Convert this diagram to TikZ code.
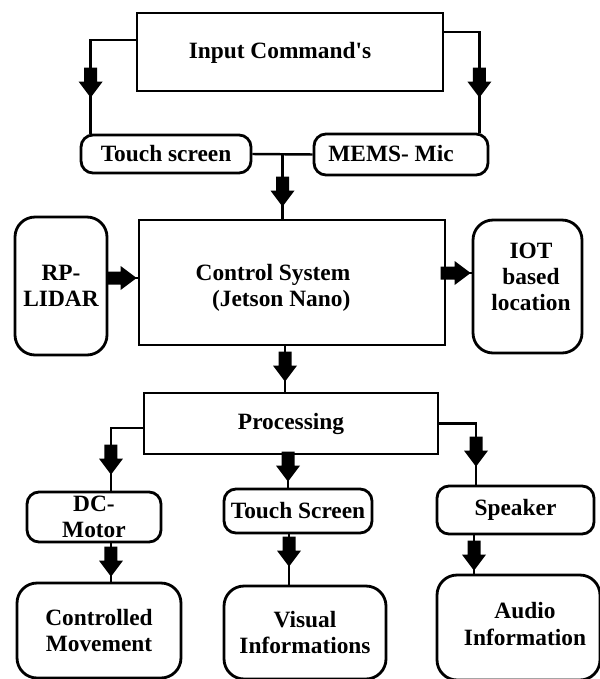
\documentclass[tikz,border=0pt]{standalone}
\usepackage{fontspec}
\setmainfont{Liberation Serif}
\usetikzlibrary{calc,decorations.markings}
\tikzset{
  box/.style={draw, line width=1.6pt, inner sep=0pt, align=center, font=\fontsize{13.3}{15}\selectfont\bfseries},
  rbox/.style={box, rounded corners=0.24cm},
  bigbox/.style={box, rounded corners=0.4cm},
  txt/.style={inner sep=0pt, align=center, font=\fontsize{13.3}{15}\selectfont\bfseries},
  conn/.style={line width=1.4pt},
  blk/.style={postaction={decorate}, decoration={markings, mark=at position #1 with {\fill (0,0) -- (-0.32cm,0.24cm) -- (-0.32cm,0.13cm) -- (-0.6cm,0.13cm) -- (-0.6cm,-0.13cm) -- (-0.32cm,-0.13cm) -- (-0.32cm,-0.24cm) -- cycle;}}}
}
\begin{document}
\begin{tikzpicture}[x=0.02cm, y=-0.02cm]
    \useasboundingbox[fill=white] (0,0) rectangle (599,679);
    % input side
    \node[box, minimum width=6.12cm, minimum height=1.56cm] (inp) at (290,52) {};
    \node[txt] (inptxt) at (280,53) {Input Command\textquotesingle s};
    \node[rbox, minimum width=3.40cm, minimum height=0.76cm] (ts) at (166,154) {Touch screen};
    \node[rbox, minimum width=3.48cm, minimum height=0.82cm] (mems) at (401,154.5) {};
    \node[txt] (memstxt) at (391,154) {MEMS- Mic};
    % control
    \node[box, minimum width=6.12cm, minimum height=2.50cm] (ctrl) at (292,282.5) {};
    \node[txt, align=right] (ctrltxt) at (273,288) {Control System\\(Jetson Nano)};
    \node[bigbox, minimum width=1.84cm, minimum height=2.76cm] (rp) at (61,286) {RP-\\LIDAR};
    \node[bigbox, minimum width=2.18cm, minimum height=2.66cm] (iot) at (527.5,286.5) {};
    \node[txt] (iottxt) at (531,277) {IOT\\based\\location};
    % output side
    \node[box, minimum width=5.88cm, minimum height=1.22cm] (proc) at (291,423.5) {Processing};
    \node[rbox, minimum width=2.68cm, minimum height=1.00cm] (dc) at (94,517) {DC-\\Motor};
    \node[rbox, minimum width=2.96cm, minimum height=0.88cm] (ts2) at (298,511) {Touch Screen};
    \node[rbox, minimum width=3.14cm, minimum height=0.96cm] (spk) at (515.5,510) {Speaker};
    \node[bigbox, minimum width=3.28cm, minimum height=1.90cm] (cm) at (99,630.5) {Controlled\\Movement};
    \node[bigbox, minimum width=3.24cm, minimum height=1.86cm] (vi) at (305,632.5) {Visual\\Informations};
    \node[bigbox, minimum width=3.26cm, minimum height=2.10cm] (ai) at (518.5,627.5) {};
    \node[txt] (aitxt) at (525,624) {Audio\\Information};
    % connectors
    \draw[conn, blk=-0.72cm] ([yshift=0.24cm]inp.west) -| ([xshift=0.22cm]ts.north west);
    \draw[conn, blk=-0.7cm] ([yshift=0.4cm]inp.east) -| ([xshift=-0.2cm]mems.north east);
    \draw[conn] (ts.east) -- (mems.west);
    \coordinate (j) at ($(ts.east)!0.5!(mems.west)$);
    \draw[conn, blk=-0.24cm] (j) -- (j |- ctrl.north);
    \draw[conn, blk=-0.02cm] ([yshift=0.16cm]rp.east) coordinate (r) -- (r -| ctrl.west);
    \draw[conn, blk=-0.02cm] ([yshift=0.19cm]ctrl.east) coordinate (i) -- (i -| iot.west);
    \draw[conn, blk=-0.2cm] ([xshift=-0.14cm]ctrl.south) coordinate (p) -- (p |- proc.north);
    \draw[conn, blk=-0.32cm] ([yshift=-0.09cm]proc.west) -| ([xshift=0.34cm]dc.north);
    \draw[conn, blk=-0.12cm] ([xshift=-0.06cm]proc.south) coordinate (q) -- (q |- ts2.north);
    \draw[conn, blk=-0.36cm] (proc.east) -| ([xshift=-0.79cm]spk.north);
    \draw[conn, blk=-0.1cm] ([xshift=0.34cm]dc.south) coordinate (d) -- (d |- cm.north);
    \draw[conn, blk=-0.36cm] ([xshift=-0.18cm]ts2.south) coordinate (t) -- (t |- vi.north);
    \draw[conn, blk=-0.06cm] ([xshift=-0.83cm]spk.south) coordinate (s) -- (s |- ai.north);
\end{tikzpicture}
\end{document}
